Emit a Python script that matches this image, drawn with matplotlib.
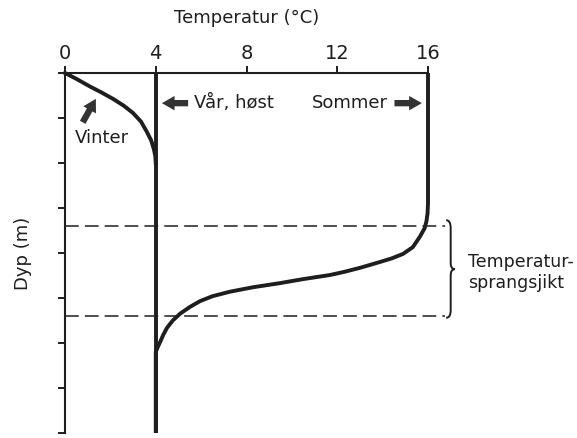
import matplotlib
matplotlib.use("Agg")
import matplotlib.pyplot as plt
from matplotlib.patches import FancyArrowPatch, PathPatch
from matplotlib.path import Path

plt.rcParams['font.family'] = ['DejaVu Sans']

# Data (temperature in °C, depth in arbitrary units)
x_ticks = [0, 4, 8, 12, 16]
y_ticks = [0, 1, 2, 3, 4, 5, 6, 7, 8]

spring_temp = [4, 4]
spring_depth = [0, 8]

winter_temp = [0.0, 0.5, 1.1, 1.6, 2.1, 2.6, 3.0, 3.35, 3.6, 3.8, 3.92, 3.98, 4.0]
winter_depth = [0.0, 0.13, 0.3, 0.43, 0.57, 0.73, 0.89, 1.08, 1.3, 1.5, 1.7, 1.85, 2.0]

summer_temp = [16.0, 16.0, 15.98, 15.93, 15.85, 15.64, 15.33, 14.9, 14.4, 13.88,
               13.0, 12.3, 11.67, 10.5, 9.47, 8.3, 7.27, 6.5, 5.95, 5.5,
               5.07, 4.75, 4.5, 4.33, 4.2, 4.08, 4.0, 4.0]
summer_depth = [0.0, 2.9, 3.12, 3.3, 3.45, 3.64, 3.87, 4.02, 4.12, 4.2,
                4.33, 4.42, 4.49, 4.58, 4.67, 4.76, 4.86, 4.96, 5.07, 5.2,
                5.35, 5.5, 5.66, 5.82, 5.97, 6.1, 6.2, 8.0]

thermo_top = 3.4
thermo_bottom = 5.4

ink = '#1e1e1e'

fig = plt.figure(figsize=(5.77, 4.38), dpi=100)
ax = fig.add_axes([65/577, 5/438, 363/577, 360/438])
ax.set_xlim(0, 16)
ax.set_ylim(8, 0)

for s in ['right', 'bottom']:
    ax.spines[s].set_visible(False)
for s in ['top', 'left']:
    ax.spines[s].set_linewidth(1.5)
    ax.spines[s].set_color(ink)

ax.xaxis.tick_top()
ax.set_xticks(x_ticks)
ax.set_xticklabels([str(v) for v in x_ticks])
ax.set_yticks(y_ticks)
ax.set_yticklabels([])
ax.tick_params(axis='x', direction='out', length=5, width=1.4, color=ink,
               labelsize=14, pad=2, labelcolor=ink)
ax.tick_params(axis='y', direction='out', length=5, width=1.4, color=ink)

ax.xaxis.set_label_position('top')
ax.set_xlabel('Temperatur (°C)', fontsize=13, color=ink)
ax.xaxis.set_label_coords(0.5, 1.153)
ax.xaxis.label.set_verticalalignment('center')

ax.set_ylabel('Dyp (m)', fontsize=13, color=ink)
ax.yaxis.set_label_coords(-0.116, 0.5)
ax.yaxis.label.set_verticalalignment('center')

lw = 2.8
ax.plot(spring_temp, spring_depth, color=ink, lw=lw, clip_on=False,
        solid_capstyle='butt')
ax.plot(winter_temp, winter_depth, color=ink, lw=lw, clip_on=False,
        solid_joinstyle='round')
ax.plot(summer_temp, summer_depth, color=ink, lw=lw, clip_on=False,
        solid_joinstyle='round', solid_capstyle='butt')

# Thermocline dashed lines
for d in [thermo_top, thermo_bottom]:
    ax.plot([0, 16.74], [d, d], color=ink, lw=1.1, ls=(0, (9, 4)),
            clip_on=False)

# Brace
bx = 17.0
verts = [(16.8, 3.27), (17.0, 3.27), (bx, 3.45),
         (bx, 4.22),
         (bx, 4.36), (17.18, 4.36),
         (bx, 4.36), (bx, 4.5),
         (bx, 5.27),
         (bx, 5.44), (16.8, 5.44)]
codes = [Path.MOVETO, Path.CURVE3, Path.CURVE3,
         Path.LINETO,
         Path.CURVE3, Path.CURVE3,
         Path.CURVE3, Path.CURVE3,
         Path.LINETO,
         Path.CURVE3, Path.CURVE3]
ax.add_patch(PathPatch(Path(verts, codes), fill=False, ec=ink, lw=1.4,
                       clip_on=False))
ax.text(17.75, 4.43, 'Temperatur-\nsprangsjikt', fontsize=12.5, color=ink,
        ha='left', va='center', linespacing=1.25, clip_on=False)

# Arrows and labels
def fat_arrow(p0, p1):
    ax.add_patch(FancyArrowPatch(
        p0, p1, arrowstyle='simple,head_length=0.7,head_width=0.8,tail_width=0.35',
        mutation_scale=13, color='#333333', lw=0, clip_on=False))

fat_arrow((5.55, 0.67), (4.15, 0.67))
ax.text(5.7, 0.67, 'Vår, høst', fontsize=13, color=ink, ha='left', va='center')

fat_arrow((14.4, 0.67), (15.85, 0.67))
ax.text(14.25, 0.67, 'Sommer', fontsize=13, color=ink, ha='right', va='center')

fat_arrow((0.72, 1.15), (1.42, 0.52))
ax.text(0.44, 1.44, 'Vinter', fontsize=13, color=ink, ha='left', va='center')

fig.savefig('out.png', dpi=100)
